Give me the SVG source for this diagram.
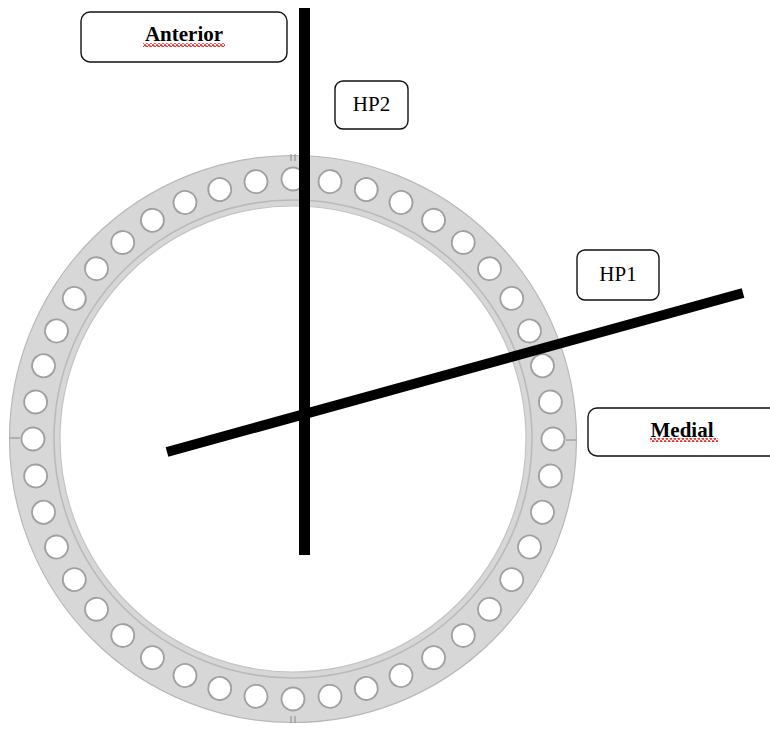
<svg xmlns="http://www.w3.org/2000/svg" xmlns:xlink="http://www.w3.org/1999/xlink" width="770" height="735" viewBox="0 0 770 735">
<style>
.box{fill:#fff;stroke:#111;stroke-width:1.4}
.lbl{font-family:"Liberation Serif","Times New Roman",serif;font-size:21px;fill:#000;text-anchor:middle}
.b{font-weight:bold}
.plane{stroke:#000;fill:none;stroke-linecap:butt}
.tick{stroke:#8a8a8a;stroke-width:1}
</style>
<defs>
<circle id="hole" cx="293" cy="179" r="11.5" fill="#fff" stroke="#a0a0a0" stroke-width="1.8"/>
<pattern id="wave" x="0" y="0" width="4" height="4" patternUnits="userSpaceOnUse">
<path d="M0,2 Q1,-0.5 2,2 T4,2" fill="none" stroke="#e0201c" stroke-width="1.3"/>
</pattern>
</defs>
<rect width="770" height="735" fill="#fff"/>
<g id="ring">
<circle cx="293" cy="439" r="283.5" fill="#d7d7d7" stroke="#b8b8b8" stroke-width="1.2"/>
<circle cx="293" cy="439" r="239" fill="none" stroke="#bababa" stroke-width="1.6"/>
<circle cx="293" cy="439" r="233" fill="#fff" stroke="#c4c4c4" stroke-width="1.2"/>
<g id="holes">
<use xlink:href="#hole" transform="rotate(0 293 439)"/>
<use xlink:href="#hole" transform="rotate(8.1818 293 439)"/>
<use xlink:href="#hole" transform="rotate(16.3636 293 439)"/>
<use xlink:href="#hole" transform="rotate(24.5454 293 439)"/>
<use xlink:href="#hole" transform="rotate(32.7272 293 439)"/>
<use xlink:href="#hole" transform="rotate(40.9090 293 439)"/>
<use xlink:href="#hole" transform="rotate(49.0909 293 439)"/>
<use xlink:href="#hole" transform="rotate(57.2727 293 439)"/>
<use xlink:href="#hole" transform="rotate(65.4545 293 439)"/>
<use xlink:href="#hole" transform="rotate(73.6363 293 439)"/>
<use xlink:href="#hole" transform="rotate(81.8181 293 439)"/>
<use xlink:href="#hole" transform="rotate(90 293 439)"/>
<use xlink:href="#hole" transform="rotate(98.1818 293 439)"/>
<use xlink:href="#hole" transform="rotate(106.3636 293 439)"/>
<use xlink:href="#hole" transform="rotate(114.5454 293 439)"/>
<use xlink:href="#hole" transform="rotate(122.7272 293 439)"/>
<use xlink:href="#hole" transform="rotate(130.9090 293 439)"/>
<use xlink:href="#hole" transform="rotate(139.0909 293 439)"/>
<use xlink:href="#hole" transform="rotate(147.2727 293 439)"/>
<use xlink:href="#hole" transform="rotate(155.4545 293 439)"/>
<use xlink:href="#hole" transform="rotate(163.6363 293 439)"/>
<use xlink:href="#hole" transform="rotate(171.8181 293 439)"/>
<use xlink:href="#hole" transform="rotate(180 293 439)"/>
<use xlink:href="#hole" transform="rotate(188.1818 293 439)"/>
<use xlink:href="#hole" transform="rotate(196.3636 293 439)"/>
<use xlink:href="#hole" transform="rotate(204.5454 293 439)"/>
<use xlink:href="#hole" transform="rotate(212.7272 293 439)"/>
<use xlink:href="#hole" transform="rotate(220.9090 293 439)"/>
<use xlink:href="#hole" transform="rotate(229.0909 293 439)"/>
<use xlink:href="#hole" transform="rotate(237.2727 293 439)"/>
<use xlink:href="#hole" transform="rotate(245.4545 293 439)"/>
<use xlink:href="#hole" transform="rotate(253.6363 293 439)"/>
<use xlink:href="#hole" transform="rotate(261.8181 293 439)"/>
<use xlink:href="#hole" transform="rotate(270 293 439)"/>
<use xlink:href="#hole" transform="rotate(278.1818 293 439)"/>
<use xlink:href="#hole" transform="rotate(286.3636 293 439)"/>
<use xlink:href="#hole" transform="rotate(294.5454 293 439)"/>
<use xlink:href="#hole" transform="rotate(302.7272 293 439)"/>
<use xlink:href="#hole" transform="rotate(310.9090 293 439)"/>
<use xlink:href="#hole" transform="rotate(319.0909 293 439)"/>
<use xlink:href="#hole" transform="rotate(327.2727 293 439)"/>
<use xlink:href="#hole" transform="rotate(335.4545 293 439)"/>
<use xlink:href="#hole" transform="rotate(343.6363 293 439)"/>
<use xlink:href="#hole" transform="rotate(351.8181 293 439)"/>
</g>
<g id="ticks">
<line class="tick" x1="291" y1="154" x2="291" y2="161"/>
<line class="tick" x1="295" y1="154" x2="295" y2="161"/>
<line class="tick" x1="291" y1="716" x2="291" y2="723"/>
<line class="tick" x1="295" y1="716" x2="295" y2="723"/>
<line class="tick" x1="10" y1="438" x2="20" y2="438"/>
<line class="tick" x1="566" y1="440" x2="576" y2="440"/>
</g>
</g>
<g id="planes">
<line id="hp2-line" class="plane" x1="304.5" y1="8" x2="304.5" y2="555" stroke-width="11"/>
<line id="hp1-line" class="plane" x1="167" y1="452" x2="743" y2="293" stroke-width="10"/>
</g>
<g id="anterior">
<rect class="box" x="81" y="12" width="206" height="50" rx="9"/>
<text class="lbl b" x="184" y="41">Anterior</text>
<rect x="143" y="43" width="82" height="4" fill="url(#wave)"/>
</g>
<g id="hp2">
<rect class="box" x="335" y="81" width="73" height="48" rx="8"/>
<text class="lbl" x="371.5" y="111">HP2</text>
</g>
<g id="hp1">
<rect class="box" x="577" y="250" width="82" height="50" rx="8"/>
<text class="lbl" x="618" y="281">HP1</text>
</g>
<g id="medial">
<rect class="box" x="588" y="408" width="200" height="48" rx="9"/>
<text class="lbl b" x="682" y="437">Medial</text>
<rect x="650" y="438" width="68" height="4" fill="url(#wave)"/>
</g>
</svg>
